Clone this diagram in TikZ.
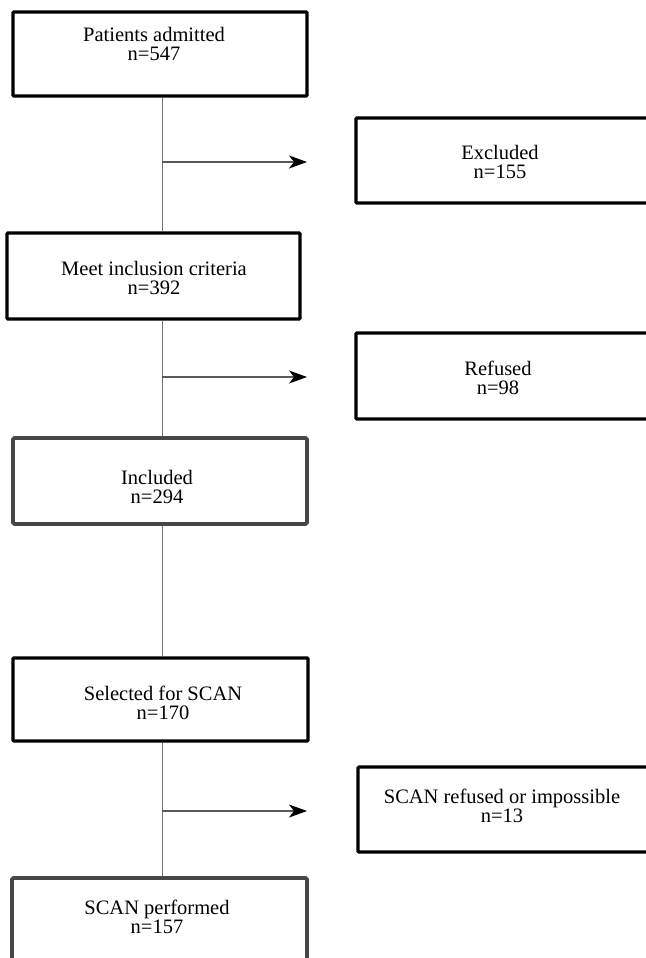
\documentclass[tikz,border=0pt]{standalone}
\usepackage{fontspec}
\setmainfont{Liberation Serif}
\usetikzlibrary{arrows.meta}
\begin{document}
\begin{tikzpicture}[x=1pt,y=-1pt,
  box/.style={draw=black, line width=3.2pt, rectangle, rounded corners=1pt, inner sep=0pt},
  graybox/.style={draw=black!72, line width=3.6pt, rectangle, rounded corners=1.5pt, inner sep=0pt},
  txt/.style={align=center, inner sep=0pt, font=\fontsize{20.5}{19.5}\selectfont},
  spineline/.style={draw=black!55, line width=1pt},
  arrowline/.style={draw=black!65, line width=1.1pt, -{Stealth[length=18pt, width=13pt, inset=5pt, color=black]}}
]
\useasboundingbox (0,0) rectangle (645,958);
\fill[white] (0,0) rectangle (645,958);

% boxes
\node[box, minimum width=294pt, minimum height=84pt] (b1) at (160,54) {};
\node[box, minimum width=304pt, minimum height=85pt] (ex) at (508,160.5) {};
\node[box, minimum width=293pt, minimum height=86pt] (b3) at (153.5,276) {};
\node[box, minimum width=304pt, minimum height=86pt] (rf) at (508,376) {};
\node[graybox, minimum width=294pt, minimum height=86pt] (b5) at (160,481) {};
\node[box, minimum width=295pt, minimum height=83pt] (b6) at (160.5,699.5) {};
\node[box, minimum width=302pt, minimum height=85pt] (sr) at (509,809.5) {};
\node[graybox, minimum width=295pt, minimum height=122pt] (b8) at (159.5,939) {};

% texts
\node[txt] (t1) at (154,44) {Patients admitted\\n=547};
\node[txt] (t2) at (500,162) {Excluded\\n=155};
\node[txt] (t3) at (154,278) {Meet inclusion criteria\\n=392};
\node[txt] (t4) at (498,378) {Refused\\n=98};
\node[txt] (t5) at (157,487) {Included\\n=294};
\node[txt] (t6) at (163,703) {Selected for SCAN\\n=170};
\node[txt] (t7) at (502,806) {SCAN refused or impossible\\n=13};
\node[txt] (t8) at (157,917) {SCAN performed\\n=157};

% spine
\coordinate (sp) at (162,0);
\draw[spineline] (sp |- b1.south) -- (sp |- b3.north);
\draw[spineline] (sp |- b3.south) -- (sp |- b5.north);
\draw[spineline] (sp |- b5.south) -- (sp |- b6.north);
\draw[spineline] (sp |- b6.south) -- (sp |- b8.north);

% side arrows
\coordinate (a1) at (307,162);
\coordinate (a2) at (307,377);
\coordinate (a3) at (307,811);
\draw[arrowline] (sp |- a1) -- (a1);
\draw[arrowline] (sp |- a2) -- (a2);
\draw[arrowline] (sp |- a3) -- (a3);
\end{tikzpicture}
\end{document}
